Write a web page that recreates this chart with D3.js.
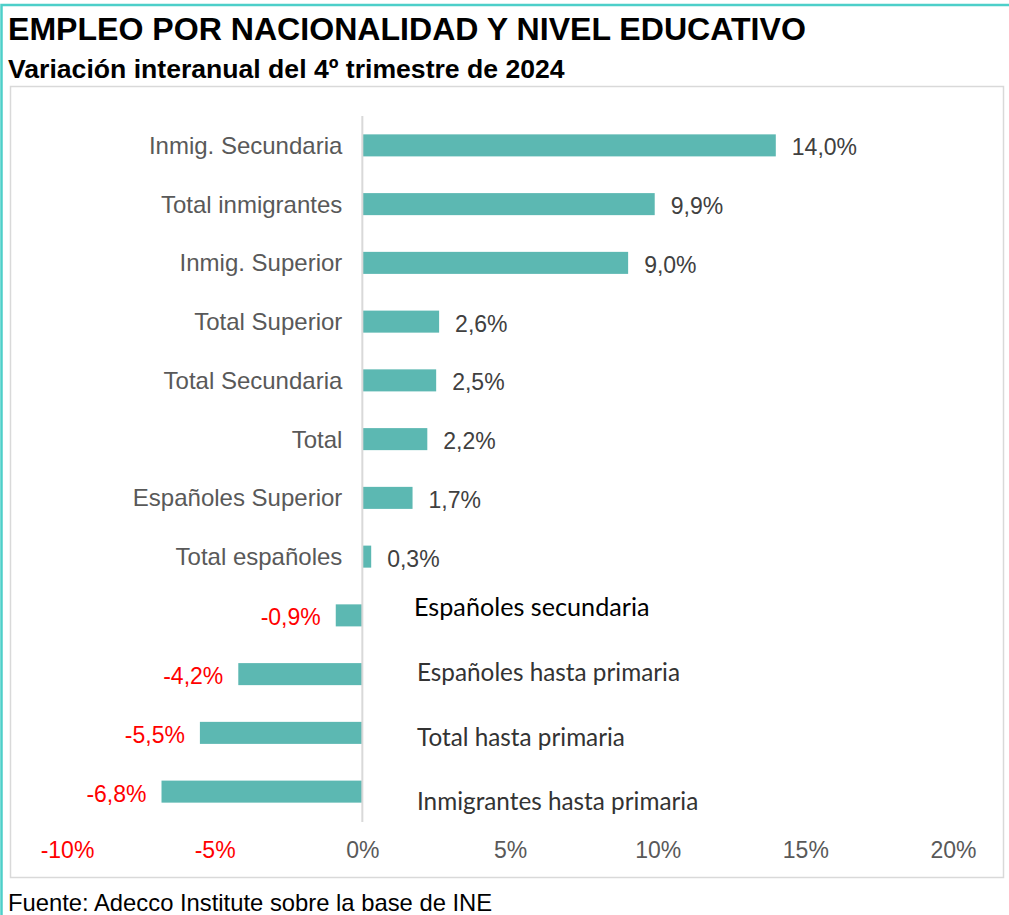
<!DOCTYPE html>
<html>
<head>
<meta charset="utf-8">
<script src="https://cdn.jsdelivr.net/npm/d3@7"></script>
<style>
  body { margin: 0; background: #fff; }
  svg { display: block; }
</style>
</head>
<body>
<div id="chart"></div>
<script>
// categories top to bottom
var categories = ["Inmig. Secundaria", "Total inmigrantes", "Inmig. Superior", "Total Superior",
    "Total Secundaria", "Total", "Españoles Superior", "Total españoles",
    "Españoles secundaria", "Españoles hasta primaria", "Total hasta primaria", "Inmigrantes hasta primaria"];
var values = [14.0, 9.9, 9.0, 2.6, 2.5, 2.2, 1.7, 0.3, -0.9, -4.2, -5.5, -6.8];
var valueLabels = ["14,0%", "9,9%", "9,0%", "2,6%", "2,5%", "2,2%", "1,7%", "0,3%", "-0,9%", "-4,2%", "-5,5%", "-6,8%"];
var tickValues = [-10, -5, 0, 5, 10, 15, 20];
var tickLabels = ["-10%", "-5%", "0%", "5%", "10%", "15%", "20%"];

var W = 1009, H = 915;
var arial = "Liberation Sans, Arial, sans-serif";
var svg = d3.select("#chart").append("svg")
    .attr("width", W)
    .attr("height", H);

// outer teal frame (right/bottom cropped off like the picture)
svg.append("rect")
    .attr("x", 1.5).attr("y", 5)
    .attr("width", W + 10).attr("height", H + 10)
    .attr("fill", "none")
    .attr("stroke", "#4dcfc9")
    .attr("stroke-width", 2.5);

// titles
svg.append("text")
    .attr("x", 8).attr("y", 40)
    .attr("font-family", arial)
    .attr("font-weight", "bold")
    .attr("font-size", 32.1)
    .attr("fill", "#000")
    .text("EMPLEO POR NACIONALIDAD Y NIVEL EDUCATIVO");

svg.append("text")
    .attr("x", 8).attr("y", 78)
    .attr("font-family", arial)
    .attr("font-weight", "bold")
    .attr("font-size", 26.6)
    .attr("fill", "#000")
    .text("Variación interanual del 4º trimestre de 2024");

// chart area box
svg.append("rect")
    .attr("x", 10.5).attr("y", 86.5)
    .attr("width", 993).attr("height", 791)
    .attr("fill", "#fff")
    .attr("stroke", "#d9d9d9")
    .attr("stroke-width", 1.5);

var x = d3.scaleLinear().domain([-10, 20]).range([67, 953]);
var y = d3.scaleBand().domain(categories).range([116, 821]).paddingInner(0.625).paddingOuter(0.3125);

var g = svg.append("g");

// x axis labels
var xAxis = g.append("g")
    .attr("transform", "translate(0,842)")
    .call(d3.axisBottom(x).tickValues(tickValues).tickSize(0).tickPadding(0)
        .tickFormat(function(d, i) { return tickLabels[i]; }));
xAxis.select(".domain").remove();
xAxis.selectAll("text")
    .attr("font-family", arial)
    .attr("font-size", 23)
    .attr("fill", function(d) { return d < 0 ? "#ff0000" : "#595959"; });

// bars
g.selectAll(".bar")
    .data(values)
    .enter().append("rect")
    .attr("class", "bar")
    .attr("x", function(d) { return x(Math.min(0, d)); })
    .attr("y", function(d, i) { return y(categories[i]); })
    .attr("width", function(d) { return Math.abs(x(d) - x(0)); })
    .attr("height", y.bandwidth())
    .attr("fill", "#5cb8b2");

// zero line
g.append("line")
    .attr("x1", x(0)).attr("x2", x(0))
    .attr("y1", 116).attr("y2", 822)
    .attr("stroke", "#d9d9d9")
    .attr("stroke-width", 2);

// value labels
g.selectAll(".val")
    .data(values)
    .enter().append("text")
    .attr("class", "val")
    .attr("x", function(d) { return d >= 0 ? x(d) + 16 : x(d) - 15; })
    .attr("y", function(d, i) { return y(categories[i]) + y.bandwidth() / 2 + 2; })
    .attr("dy", "0.35em")
    .attr("text-anchor", function(d) { return d >= 0 ? "start" : "end"; })
    .attr("font-family", arial)
    .attr("font-size", 23)
    .attr("fill", function(d) { return d >= 0 ? "#404040" : "#ff0000"; })
    .text(function(d, i) { return valueLabels[i]; });

// category labels: left of axis for positives, to the right for the negative rows
var negOffset = [-8, -2, 5, 10];
g.selectAll(".cat")
    .data(categories)
    .enter().append("text")
    .attr("class", "cat")
    .attr("x", function(d, i) { return values[i] >= 0 ? x(0) - 20 : (i == 8 ? 414 : 417); })
    .attr("y", function(d, i) { return y(d) + y.bandwidth() / 2 + (values[i] >= 0 ? 0 : negOffset[i - 8]); })
    .attr("dy", "0.35em")
    .attr("text-anchor", function(d, i) { return values[i] >= 0 ? "end" : "start"; })
    .attr("font-family", function(d, i) { return values[i] >= 0 ? arial : "Lato, Calibri, sans-serif"; })
    .attr("font-size", function(d, i) { return values[i] >= 0 ? 24 : (i == 8 ? 25.2 : 24.3); })
    .attr("fill", function(d, i) { return values[i] >= 0 ? "#595959" : (i == 8 ? "#000" : "#333"); })
    .text(function(d) { return d; });

// source
svg.append("text")
    .attr("x", 8).attr("y", 911)
    .attr("font-family", arial)
    .attr("font-size", 23.8)
    .attr("fill", "#000")
    .text("Fuente: Adecco Institute sobre la base de INE");
</script>
</body>
</html>
